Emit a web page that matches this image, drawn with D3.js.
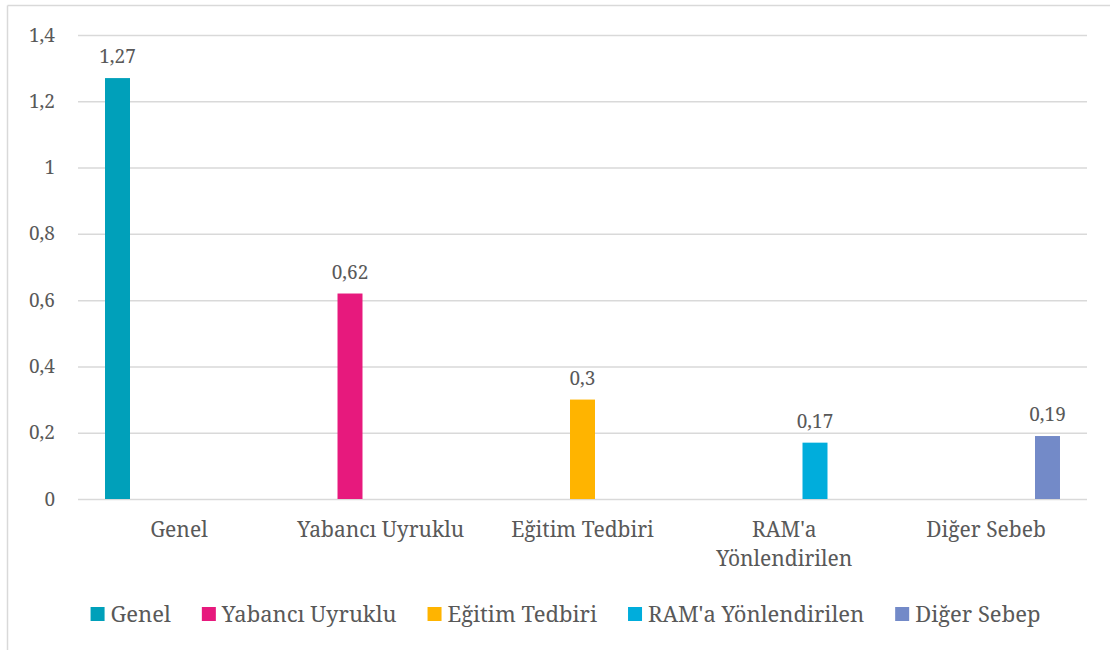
<!DOCTYPE html>
<html>
<head>
<meta charset="utf-8">
<script src="https://cdn.jsdelivr.net/npm/d3@7"></script>
<style>
  html, body { margin: 0; padding: 0; background: #fff; }
  svg { display: block; }
</style>
</head>
<body>
<svg id="chart" width="1110" height="650"></svg>
<script>
// Category axis labels and the series (each series has a value only in its own category)
const categories = ["Genel", "Yabancı Uyruklu", "Eğitim Tedbiri", "RAM'a Yönlendirilen", "Diğer Sebeb"];
const seriesNames = ["Genel", "Yabancı Uyruklu", "Eğitim Tedbiri", "RAM'a Yönlendirilen", "Diğer Sebep"];
const seriesValues = [1.27, 0.62, 0.30, 0.17, 0.19];
const seriesColors = ["#00A0BA", "#E7197D", "#FFB400", "#00ADDC", "#738AC8"];
const yTicks = [0, 0.2, 0.4, 0.6, 0.8, 1, 1.2, 1.4];

const FONT = '"Noto Serif", "DejaVu Serif", serif';
const TEXT_COLOR = "#595959";

const tr = d3.formatLocale({ decimal: ",", thousands: ".", grouping: [3], currency: ["", "₺"] });
const fmt = v => tr.format("~g")(+v.toFixed(2));

const svg = d3.select("#chart");
const W = 1110, H = 650;
const plot = { left: 78, right: 1087, top: 35, bottom: 499 };

// Chart area border (top and left edges visible)
svg.append("line").attr("x1", 7.5).attr("x2", W).attr("y1", 5.5).attr("y2", 5.5)
  .attr("stroke", "#D9D9D9").attr("stroke-width", 1.5);
svg.append("line").attr("x1", 7.5).attr("x2", 7.5).attr("y1", 5.5).attr("y2", H)
  .attr("stroke", "#D9D9D9").attr("stroke-width", 1.5);

const x0 = d3.scaleBand().domain(categories).range([plot.left, plot.right]).paddingInner(0).paddingOuter(0);
const x1 = d3.scaleBand().domain(seriesNames).range([0, x0.bandwidth()]).paddingInner(0.186).paddingOuter(0.88);
const y = d3.scaleLinear().domain([0, 1.4]).range([plot.bottom, plot.top]);

// Horizontal gridlines + tick labels
const yAxis = d3.axisLeft(y).tickValues(yTicks).tickFormat(fmt)
  .tickSize(-(plot.right - plot.left)).tickPadding(23);
const gy = svg.append("g").attr("transform", `translate(${plot.left},0)`).call(yAxis);
gy.select(".domain").remove();
gy.selectAll(".tick line").attr("stroke", "#D9D9D9").attr("stroke-width", 1.5);
gy.selectAll(".tick text")
  .style("font-family", FONT).style("font-size", "19px").style("fill", TEXT_COLOR);

// Bars: series i sits in slot i of category i
const bars = seriesNames.map((s, i) => ({ cat: categories[i], series: s, value: seriesValues[i], color: seriesColors[i] }));
const gBars = svg.append("g");
gBars.selectAll("rect").data(bars).join("rect")
  .attr("x", d => x0(d.cat) + x1(d.series))
  .attr("y", d => y(d.value))
  .attr("width", x1.bandwidth())
  .attr("height", d => y(0) - y(d.value))
  .attr("fill", d => d.color);

// Data labels
gBars.selectAll("text").data(bars).join("text")
  .attr("x", d => x0(d.cat) + x1(d.series) + x1.bandwidth() / 2)
  .attr("y", d => y(d.value) - 15)
  .attr("text-anchor", "middle")
  .style("font-family", FONT).style("font-size", "19px").style("fill", TEXT_COLOR)
  .text(d => fmt(d.value));

// Category labels with word wrapping
const gCat = svg.append("g");
categories.forEach(c => {
  const cx = x0(c) + x0.bandwidth() / 2;
  const t = gCat.append("text")
    .attr("x", cx).attr("y", 537)
    .attr("text-anchor", "middle")
    .style("font-family", FONT).style("font-size", "21px").style("fill", TEXT_COLOR);
  const words = c.split(" ");
  let line = [];
  let tspan = t.append("tspan").attr("x", cx).attr("dy", 0);
  words.forEach(w => {
    line.push(w);
    tspan.text(line.join(" "));
    if (tspan.node().getComputedTextLength() > 185 && line.length > 1) {
      line.pop();
      tspan.text(line.join(" "));
      line = [w];
      tspan = t.append("tspan").attr("x", cx).attr("dy", 29).text(w);
    }
  });
});

// Legend
const legend = svg.append("g");
const sw = 14, gapSwatch = 6, gapItem = 31;
let lx = 0;
seriesNames.forEach((s, i) => {
  const g = legend.append("g").attr("transform", `translate(${lx},0)`);
  g.append("rect").attr("x", 0).attr("y", -sw / 2).attr("width", sw).attr("height", sw).attr("fill", seriesColors[i]);
  const tx = g.append("text").attr("x", sw + gapSwatch).attr("y", 0).attr("dy", "0.35em")
    .style("font-family", FONT).style("font-size", "22px").style("fill", TEXT_COLOR).text(s);
  lx += sw + gapSwatch + tx.node().getComputedTextLength() + gapItem;
});
const total = lx - gapItem;
legend.attr("transform", `translate(${565.5 - total / 2},614)`);
</script>
</body>
</html>
